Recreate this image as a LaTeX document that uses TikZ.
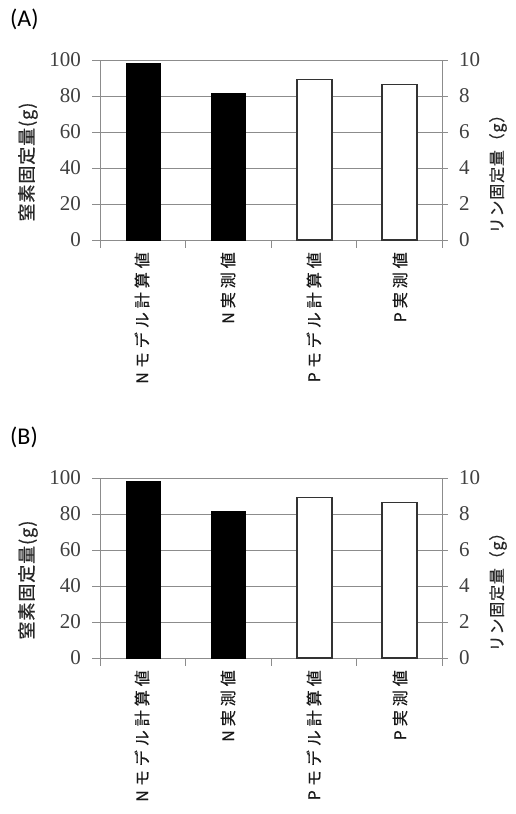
\documentclass[tikz,border=0pt]{standalone}
\usepackage{fontspec}
\setmainfont{Liberation Serif}
\newfontfamily\jpcat[LetterSpace=25,FakeBold=0.6]{Noto Sans CJK JP}
\newfontfamily\jpax[LetterSpace=5,FakeBold=0.6]{Noto Sans CJK JP}
\newfontfamily\tagfont{Carlito}
\tikzset{
  gridline/.style={draw=black!45, line width=0.8pt},
  axisline/.style={draw=black!45, line width=0.8pt},
  blackbar/.style={fill=black, draw=black, line width=0.8pt},
  whitebar/.style={fill=white, draw=black!80, line width=1.2pt},
  ticklab/.style={font=\fontsize{21}{21}\selectfont, text=black!75, inner sep=0pt},
  catlab/.style={font=\jpcat\fontsize{16}{16}\selectfont, text=black!90, rotate=90, anchor=east, inner sep=0pt},
  axlab/.style={font=\jpax\fontsize{18}{18}\selectfont, text=black!85, rotate=90, inner sep=0pt},
  paneltag/.style={font=\tagfont\fontsize{24}{24}\selectfont, anchor=north west, inner sep=0pt}
}
\newcommand\drawpanel[3]{%
\begin{scope}[yshift=#1]
  \node[paneltag] (#3tag) at (10,9) {(#2)};
  \foreach \v in {0,20,40,60,80,100} {
    \draw[gridline] (92,{240-1.8*\v}) -- (448,{240-1.8*\v});
    \node[ticklab, anchor=east] (#3l\v) at (81,{240-1.8*\v}) {\v};
  }
  \foreach \v in {0,2,4,6,8,10} {
    \node[ticklab, anchor=west] (#3r\v) at (459,{240-18*\v}) {\v};
  }
  \draw[axisline] (100,60) -- (100,248);
  \draw[axisline] (442,60) -- (442,248);
  \foreach \x in {185.5,271,356.5} { \draw[axisline] (\x,240) -- (\x,248); }
  \draw[blackbar] (126,240) rectangle (160,{240-1.8*98.2});
  \draw[blackbar] (211,240) rectangle (245,{240-1.8*81.4});
  \draw[whitebar] (297,240) rectangle (332,{240-1.8*89.2});
  \draw[whitebar] (382,240) rectangle (417,{240-1.8*86.2});
  \node[catlab] (#3c1) at (142,252) {Nモデル計算値};
  \node[catlab] (#3c2) at (228,252) {N実測値};
  \node[catlab] (#3c3) at (314,252) {Pモデル計算値};
  \node[catlab] (#3c4) at (400,252) {P実測値};
  \node[axlab] (#3yl) at (28,162) {窒素固定量(g)};
  \node[axlab, font=\jpax\fontsize{16}{16}\selectfont] (#3yr) at (498,170) {リン固定量（g）};
\end{scope}}
\begin{document}
\begin{tikzpicture}[x=1pt, y=-1pt]
  \useasboundingbox (0,0) rectangle (515,814);
  \fill[white] (0,0) rectangle (515,814);
  \drawpanel{0pt}{A}{a}
  \drawpanel{-418pt}{B}{b}
\end{tikzpicture}
\end{document}
